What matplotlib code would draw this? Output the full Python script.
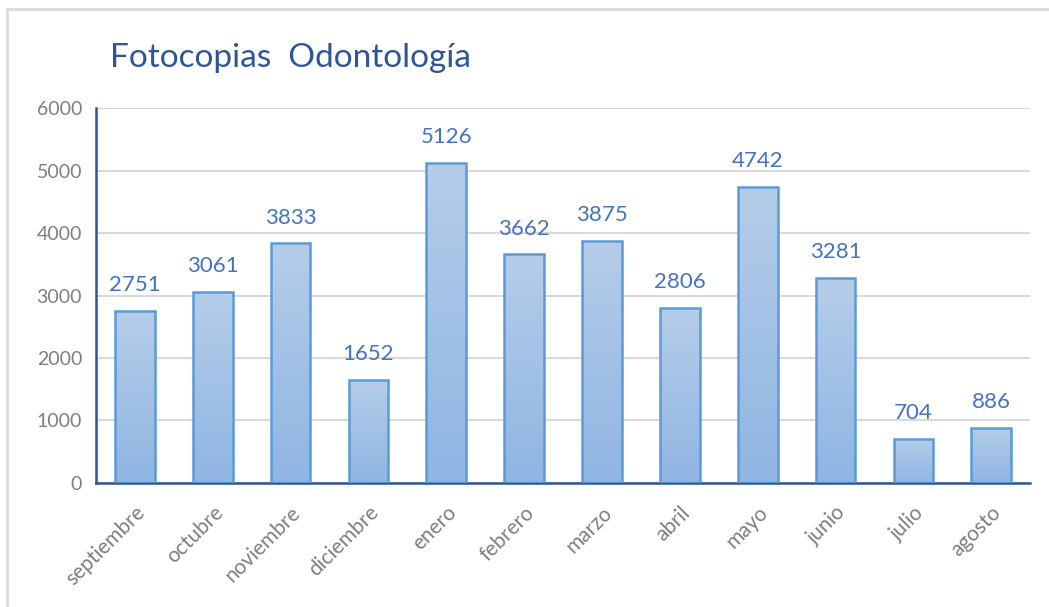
import matplotlib
matplotlib.use('Agg')

import numpy as np
import matplotlib.pyplot as plt
from matplotlib.patches import Rectangle
from matplotlib.colors import LinearSegmentedColormap

months = ['septiembre', 'octubre', 'noviembre', 'diciembre', 'enero', 'febrero',
          'marzo', 'abril', 'mayo', 'junio', 'julio', 'agosto']
copies = [2751, 3061, 3833, 1652, 5126, 3662, 3875, 2806, 4742, 3281, 704, 886]
yticks = [0, 1000, 2000, 3000, 4000, 5000, 6000]

plt.rcParams['font.family'] = ['Lato', 'DejaVu Sans']


def main():
    fig = plt.figure(figsize=(10.49, 6.07), dpi=100)
    ax = fig.add_axes([0.0915, 0.2043, 0.8905, 0.6177])

    # outer chart border (only top and left are visible in the reference)
    fig.patches.append(Rectangle((7 / 1049, -0.1), 1.1, 1.1 - 9 / 607,
                                 transform=fig.transFigure, fill=False,
                                 edgecolor='#d9d9d9', linewidth=2))

    x = np.arange(len(months))
    bars = ax.bar(x, copies, width=0.51, facecolor='none',
                  edgecolor='#5b9bd5', linewidth=1.8, zorder=3)

    cmap = LinearSegmentedColormap.from_list('grad', ['#8fb5e3', '#b5cde9'])
    grad = np.linspace(0, 1, 256).reshape(-1, 1)
    for b in bars:
        x0, y0 = b.get_x(), b.get_y()
        w, h = b.get_width(), b.get_height()
        im = ax.imshow(grad, cmap=cmap, origin='lower', aspect='auto',
                       extent=(x0, x0 + w, y0, y0 + h), zorder=2)
        im.set_clip_path(b)

    for xi, v in zip(x, copies):
        ax.text(xi, v + 250, str(v), ha='center', va='bottom',
                fontsize=16, color='#4472c4')

    ax.set_xlim(-0.5, len(months) - 0.5)
    ax.set_ylim(0, 6000)
    ax.set_yticks(yticks)
    ax.set_yticklabels([str(t) for t in yticks], fontsize=14, color='#7f7f7f')
    ax.set_xticks(x)
    ax.set_xticklabels(months, rotation=45, ha='right', rotation_mode='anchor',
                       fontsize=15, color='#7f7f7f')
    ax.tick_params(length=0, pad=10)
    ax.tick_params(axis='x', pad=14)

    ax.grid(axis='y', color='#d9d9d9', linewidth=1.5, zorder=0)
    ax.set_axisbelow(True)
    for s in ['top', 'right']:
        ax.spines[s].set_visible(False)
    for s in ['left', 'bottom']:
        ax.spines[s].set_color('#2f5597')
        ax.spines[s].set_linewidth(1.8)

    fig.text(110 / 1049, 1 - 58 / 607, 'Fotocopias  Odontología', fontsize=24,
             color='#2f5597', va='center', ha='left')

    fig.savefig('out.png')
    plt.close(fig)


if __name__ == '__main__':
    main()
